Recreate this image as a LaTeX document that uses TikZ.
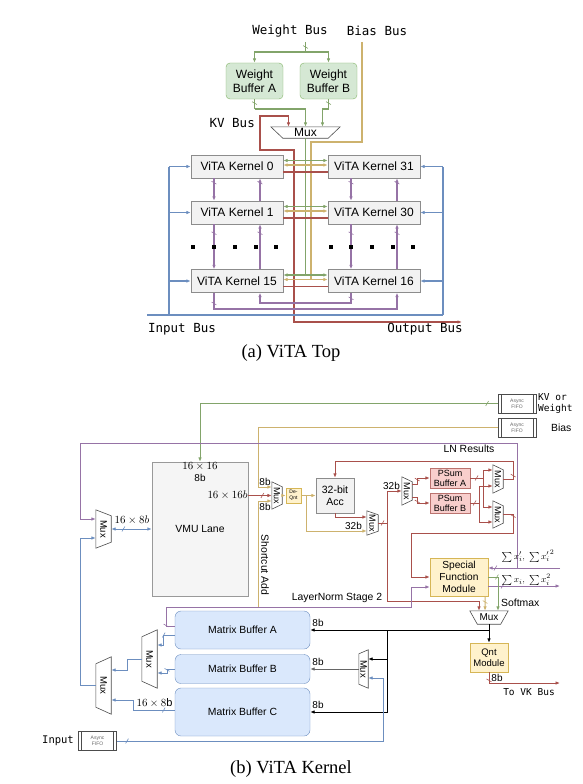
\documentclass[tikz,border=0pt]{standalone}
\usepackage[no-math]{fontspec}
\setmainfont{Liberation Sans}
\newfontfamily\busfont{DejaVu Sans Mono}
\newfontfamily\capfont{Liberation Serif}
\usetikzlibrary{arrows.meta,positioning,decorations.markings}

\definecolor{vgreen}{HTML}{82A46A}
\definecolor{vtan}{HTML}{CDB26E}
\definecolor{vred}{HTML}{A9504B}
\definecolor{vpurple}{HTML}{9673A6}
\definecolor{vblue}{HTML}{6C8EBF}
\definecolor{wfill}{HTML}{D5E8D4}
\definecolor{wbord}{HTML}{82B366}
\definecolor{mfill}{HTML}{DAE8FC}
\definecolor{pfill}{HTML}{F8CECC}
\definecolor{yfill}{HTML}{FFF2CC}
\definecolor{ybord}{HTML}{D6B656}

\newcommand{\fsz}[1]{\fontsize{#1}{1.15\dimexpr#1pt\relax}\selectfont}
% mux outlines drawn round plain nodes
\newcommand{\muxdn}[2]{\draw[muxline] (#1.north west) -- (#1.north east) -- ([xshift=-#2]#1.south east) -- ([xshift=#2]#1.south west) -- cycle;}
\newcommand{\muxnr}[2]{\draw[muxline] (#1.north west) -- ([yshift=-#2]#1.north east) -- ([yshift=#2]#1.south east) -- (#1.south west) -- cycle;}
\newcommand{\muxnl}[2]{\draw[muxline] ([yshift=-#2]#1.north west) -- (#1.north east) -- (#1.south east) -- ([yshift=#2]#1.south west) -- cycle;}

\tikzset{
  muxline/.style={draw=black!70,line width=0.6pt},
  slashat/.style={postaction={decorate,decoration={markings,
      mark=at position #1 with {\draw[-,line width=0.6pt] (-1.4pt,-2.4pt) -- (1.4pt,2.4pt);}}}},
}

\begin{document}
\begin{tikzpicture}[x=1pt,y=-1pt,
  >={Latex[length=4.5pt,width=3.6pt]},
  kern/.style={draw=black!45,fill=black!5,minimum width=92pt,minimum height=23pt,inner sep=0pt,font=\fsz{12}},
  wbuf/.style={draw=wbord,fill=wfill,rounded corners=4pt,minimum width=57pt,minimum height=36pt,inner sep=0pt,align=center,font=\fsz{12}},
  bus/.style={font=\busfont\fsz{12.5},inner sep=1pt},
  busb/.style={font=\busfont\fsz{9.5},inner sep=1pt,align=left},
  captext/.style={font=\capfont\fsz{18.5},inner sep=0pt},
  muxn/.style={inner sep=0pt,font=\fsz{9}},
  ga/.style={draw=vgreen,line width=1.4pt},
  ta/.style={draw=vtan,line width=1.4pt},
  ra/.style={draw=vred,line width=1.4pt},
  pa/.style={draw=vpurple,line width=1.2pt},
  ba/.style={draw=vblue,line width=1.6pt},
  gb/.style={draw=vgreen,line width=1pt},
  tb/.style={draw=vtan,line width=1pt},
  rb/.style={draw=vred,line width=1pt},
  pb/.style={draw=vpurple,line width=1pt},
  bb/.style={draw=vblue,line width=1pt},
  kb/.style={draw=black,line width=1pt},
  grl/.style={draw=black!60,line width=1pt},
  fifo/.style={draw=black!70,fill=white,minimum width=38pt,minimum height=19pt,inner sep=0pt,align=center,
    font=\fsz{5},text=black!60,
    path picture={\draw[black!70] ([xshift=3pt]path picture bounding box.north west) -- ([xshift=3pt]path picture bounding box.south west);
      \draw[black!70] ([xshift=-3pt]path picture bounding box.north east) -- ([xshift=-3pt]path picture bounding box.south east);}},
  vmub/.style={draw=black!40,fill=black!4,minimum width=96pt,minimum height=134pt,inner sep=0pt,font=\fsz{10.4}},
  grayb/.style={draw=black!45,fill=black!5,inner sep=0pt,align=center,font=\fsz{10.5}},
  yelb/.style={draw=ybord,fill=yfill,inner sep=0pt,align=center},
  psum/.style={draw=vred!80,fill=pfill,minimum width=40pt,minimum height=20pt,inner sep=0pt,align=center,font=\fontsize{9}{10}\selectfont},
  mbuf/.style={draw=vblue,fill=mfill,rounded corners=6pt,minimum width=135pt,inner sep=0pt,font=\fsz{10.4}},
  lb/.style={inner sep=1pt,font=\fsz{10.4}},
  lb8/.style={inner sep=0.5pt,font=\fsz{10}},
  lbm/.style={inner sep=0.5pt,font=\fsz{11}},
]
\useasboundingbox (0,0) rectangle (583,784);

% ---------------- (a) ViTA Top
\node[bus] (wbus) at (290,31) {Weight Bus};
\node[bus] (bbus) at (377,31) {Bias Bus};
\node[wbuf] (wba) at (254.5,81) {Weight\\Buffer A};
\node[wbuf] (wbb) at (328.5,81) {Weight\\Buffer B};
\node[inner sep=0pt,minimum width=69pt,minimum height=11pt,font=\fsz{12}] (muxa) at (305.5,132.5) {Mux};
\muxdn{muxa}{12pt}
\node[bus,anchor=east] (kvbus) at (256,123) {KV Bus};

\node[kern] (k0) at (237,166.5) {ViTA Kernel 0};
\node[kern] (k31) at (374,166.5) {ViTA Kernel 31};
\node[kern] (k1) at (237,212.5) {ViTA Kernel 1};
\node[kern] (k30) at (374,212.5) {ViTA Kernel 30};
\node[kern] (k15) at (237,281) {ViTA Kernel 15};
\node[kern] (k16) at (374,281) {ViTA Kernel 16};

\coordinate (wtop) at (305.5,42);
\coordinate (wsplit) at (305.5,52);
\coordinate (btop) at (362,42);
\coordinate (ibl) at (147,315);
\coordinate (ibx) at (169,315);
\coordinate (ibr) at (443,315);
\coordinate (ob) at (462,322);
\coordinate (wao) at (254.5,109);
\coordinate (wbo) at (328.5,109);

\draw[ga,slashat=0.5] (wtop) -- (wsplit);
\draw[ga,->] (wsplit) -| (wba.north);
\draw[ga,->] (wsplit) -| (wbb.north);
\draw[ga,slashat=0.4] (wba.south) -- (wao);
\draw[ga,->] (wao) -| (muxa.north);
\draw[ga,slashat=0.4] (wbb.south) -- (wbo);
\draw[ga,->] (wbo) -| ([xshift=17pt]muxa.north);
\draw[ra,<->] ([xshift=-17pt]muxa.north) |- (260,116) |- (294,150) -- (294,322) -- (ob);
\draw[ga] (muxa.south) -- (305.5,275);
\draw[ta] (btop) -- (362,142) -- (311,142) -- (311,280);
\foreach \a/\b in {k0/k31,k1/k30,k15/k16}{
  \draw[ga,<->] ([yshift=6pt]\a.east) -- ([yshift=6pt]\b.west);
  \draw[ta,<->] ([yshift=1.5pt]\a.east) -- ([yshift=1.5pt]\b.west);
  \draw[ra] ([yshift=-5.5pt]\a.east) -- ([yshift=-5.5pt]\b.west);
}
\foreach \a/\b in {k0/k1,k1/k15,k31/k30,k30/k16}{
  \draw[pa,->,slashat=0.2] ([xshift=-23pt]\a.south) -- ([xshift=-23pt]\b.north);
  \draw[pa,->,slashat=0.8] ([xshift=23pt]\b.north) -- ([xshift=23pt]\a.south);
}
\draw[pa,->,slashat=0.05] ([xshift=-23pt]k15.south) |- (397,309) -- ([xshift=23pt]k16.south);
\draw[pa,->,slashat=0.05] ([xshift=-23pt]k16.south) |- (260,303) -- ([xshift=23pt]k15.south);
\foreach \x in {193,214,235,256,276,331,351,372,393,413}
  \fill (\x-2,245) rectangle (\x+2,249);

\draw[ba] (ibl) -- (ibr);
\draw[ba] (ibx) -- (ibx |- k0.west);
\foreach \k in {k0,k1,k15} \draw[ba,->] (ibx |- \k.west) -- (\k.west);
\draw[ba] (ibr) -- (ibr |- k31.east);
\foreach \k in {k31,k30,k16} \draw[ba,->] (ibr |- \k.east) -- (\k.east);

\node[bus] (ibus) at (182,329) {Input Bus};
\node[bus] (obus) at (425,329) {Output Bus};
\node[captext] (capa) at (291,353) {(a) ViTA Top};

% ---------------- (b) ViTA Kernel
\node[fifo] (fkv) at (517,403.5) {Async\\FIFO};
\node[fifo] (fbias) at (517,427.5) {Async\\FIFO};
\node[fifo] (fin) at (97.5,741) {Async\\FIFO};
\node[busb,anchor=west] (kvw) at (537,403.5) {KV or\\Weight};
\node[lb,anchor=west] (biasl) at (550,427.5) {Bias};
\node[bus,font=\busfont\fsz{10.5},anchor=east] (inl) at (75,741) {Input};

\node[vmub] (vmu) at (200,529) {VMU Lane};
\node[lbm] (vdim) at (200,466) {$16\times16$};
\node[lb8] (vbit) at (200,478) {8b};

\node[muxn,minimum width=10pt,minimum height=27pt] (m1) at (277,495.5) {\rotatebox{-90}{Mux}};
\muxnr{m1}{5pt}
\node[yelb,minimum size=15pt,font=\fontsize{5}{6}\selectfont] (dq) at (293.5,495.5) {De-\\Qnt};
\node[grayb,minimum width=38pt,minimum height=35pt] (acc) at (335,495.5) {32-bit\\Acc};
\node[muxn,minimum width=11pt,minimum height=24pt] (m2) at (372.5,523) {\rotatebox{-90}{Mux}};
\muxnr{m2}{4pt}
\node[muxn,minimum width=10pt,minimum height=28pt] (m3) at (407,491) {\rotatebox{-90}{Mux}};
\muxnr{m3}{5pt}
\node[psum] (psa) at (450,478) {PSum\\Buffer A};
\node[psum] (psb) at (450,503) {PSum\\Buffer B};
\node[muxn,minimum width=10pt,minimum height=28pt] (m4) at (498,479) {\rotatebox{-90}{Mux}};
\muxnr{m4}{5pt}
\node[muxn,minimum width=10pt,minimum height=27pt] (m5) at (498,514.5) {\rotatebox{-90}{Mux}};
\muxnr{m5}{5pt}
\node[yelb,minimum width=58pt,minimum height=38pt,font=\fontsize{10.2}{12}\selectfont] (sfu) at (459,577) {Special\\Function\\Module};
\node[muxn,minimum width=38pt,minimum height=13pt,font=\fsz{10}] (mf) at (489,617.5) {Mux};
\muxdn{mf}{7.5pt}
\node[yelb,minimum width=38pt,minimum height=29pt,font=\fontsize{9.5}{11.5}\selectfont] (qnt) at (489,657.5) {Qnt\\Module};

\node[mbuf,minimum height=38pt] (mba) at (242.5,630) {Matrix Buffer A};
\node[mbuf,minimum height=29pt] (mbb) at (242.5,669) {Matrix Buffer B};
\node[mbuf,minimum height=48pt] (mbc) at (242.5,712) {Matrix Buffer C};

\node[muxn,font=\fsz{9.5},minimum width=15pt,minimum height=38pt] (ml1) at (103.5,529) {\rotatebox{-90}{Mux}};
\muxnr{ml1}{6pt}
\node[muxn,font=\fsz{9.5},minimum width=15pt,minimum height=57pt] (ml2) at (103.5,685.5) {\rotatebox{-90}{Mux}};
\muxnl{ml2}{7pt}
\node[muxn,font=\fsz{9.5},minimum width=15pt,minimum height=58pt] (mm) at (149.5,659) {\rotatebox{-90}{Mux}};
\muxnl{mm}{7pt}
\node[muxn,font=\fsz{9.5},minimum width=9pt,minimum height=38pt] (mr) at (363.5,669) {\rotatebox{-90}{Mux}};
\muxnl{mr}{4pt}

% inputs from the async FIFOs
\draw[gb,->,slashat=0.03] (fkv.west) -| (vmu.north);
\draw[tb,->] (fbias.west) -| (258,487) -- (m1.west |- 0,487);
\draw[rb,->,slashat=0.6] (vmu.east |- m1.west) -- (m1.west);
\node[lbm,anchor=east] (vout) at (vmu.east |- m1.west) {$16\times16b$};
\draw[tb,->] (258,607) -- (258,501) -- (m1.west |- 0,501);
\node[lb8] (b8a) at (265,482) {8b};
\node[lb8] (b8b) at (265,507) {8b};
\node[lb,rotate=-90] (sadd) at (265,565) {Shortcut Add};

% accumulate path
\draw[tb,->] (m1.east) -- (dq.west);
\draw[tb,->] (dq.east) -- (acc.west);
\draw[tb,->] (306,495.5) |- (m2.west |- 0,531);
\node[lb8] (b32a) at (353.5,526) {32b};
\draw[rb,->] (acc.south) |- (m2.west |- 0,517);
\draw[rb,slashat=0.5] (m2.east) -- (387,523);
\draw[rb,->] (387,523) |- (m3.west);
\draw[rb,->] (387,523) |- (479,601) -- ([xshift=-10pt]mf.north);
\node[lb8] (b32b) at (391.5,486) {32b};
\draw[rb,->,slashat=0.4] ([yshift=7pt]m3.east) -- ++(5,0) |- (psa.west);
\draw[rb,->,slashat=0.4] ([yshift=-6pt]m3.east) -- ++(5,0) |- (psb.west);
\draw[rb,slashat=0.5] (psa.east) -- (483,478);
\draw[rb,->] (483,478) |- ([yshift=9pt]m4.west);
\draw[rb,->] (483,478) |- ([yshift=7.5pt]m5.west);
\draw[rb,slashat=0.5] (psb.east) -- (479,503);
\draw[rb,->] (479,503) |- ([yshift=-7pt]m4.west);
\draw[rb,->] (479,503) |- ([yshift=-7.5pt]m5.west);
\draw[rb,->,slashat=0.06] (m4.east) -- ++(10,0) |- (335,461) -- (acc.north);
\draw[rb,->,slashat=0.06] (m5.east) -- ++(10,0) |- (411,533) |- (sfu.west);

% special function module
\draw[pb,->,slashat=0.9] (560,568) -- ([yshift=9pt]sfu.east);
\draw[pb,->] (517,568) |- (80,443) |- ([yshift=10pt]ml1.west);
\draw[pb,->,slashat=0.2] ([yshift=-9pt]sfu.east) -- (560,586);
\node[lbm,font=\fsz{9.5},anchor=west] (sum1) at (501,556) {$\sum x_i',\ \sum {x_i'}^2$};
\node[lbm,font=\fsz{9.5},anchor=west] (sum2) at (501,580) {$\sum x_i,\ \sum x_i^2$};
\node[lb] (lnres) at (469,449) {LN Results};
\node[lb,anchor=west] (smax) at (500,603) {Softmax};
\draw[gb,->,slashat=0.2] (sfu.east) -- (498,577) -- ([xshift=9pt]mf.north);
\draw[tb,->,slashat=0.4] ([xshift=-3pt]sfu.south east) -- ([xshift=-4pt]mf.north);
\draw[pb,->,slashat=0.03] ([yshift=4pt]mba.west) -- (166,626) |- (411,607) |- ([yshift=-10pt]sfu.west);
\node[lb] (ln2) at (337,598) {LayerNorm Stage 2};

% back into the matrix buffers
\draw[kb] (mf.south) -- (489,630);
\draw[kb,->] (489,630) -- (qnt.north);
\draw[kb,->] (489,630) -- (mba.east);
\draw[kb,->] (387,630) |- (mbc.east);
\draw[kb,->] (387,659) -- ([yshift=10pt]mr.east);
\draw[grl,->] (mr.west) -- (mbb.east);
\draw[bb,->,slashat=0.03] (fin.east) -- (383,741) -- (383,678) -- ([yshift=-9pt]mr.east);
\node[lb8] (b8c) at (318,623) {8b};
\node[lb8] (b8d) at (318,662) {8b};
\node[lb8] (b8e) at (318,705) {8b};
\draw[rb,->,slashat=0.1] (qnt.south) -- (489,683) -- (560,683);
\node[lb8] (b8f) at (497,678) {8b};
\node[busb] (vkbus) at (529,692) {To VK Bus};

% matrix buffers to the VMU lane
\draw[bb,->,slashat=0.4] ([yshift=-5pt]mba.west) -- (163,635) |- ([yshift=14pt]mm.east);
\draw[bb,->,slashat=0.4] (mbb.west) -- (167,669) |- ([yshift=-14pt]mm.east);
\draw[bb,->] (mm.west) -- (127,659) |- ([yshift=15.5pt]ml2.east);
\draw[bb,->,slashat=0.15] ([yshift=2pt]mbc.west) -- (133,710) |- ([yshift=-14.5pt]ml2.east);
\node[lbm] (dimc) at (154.5,703) {$16\times8$b};
\draw[bb,->] (ml2.west) -- (80,685.5) |- ([yshift=-9pt]ml1.west);
\draw[bb,<->,slashat=0.3] (ml1.east) -- (vmu.west);
\node[lbm] (diml) at (132,520) {$16\times8b$};

\node[captext] (capb) at (291,769) {(b) ViTA Kernel};
\end{tikzpicture}
\end{document}
